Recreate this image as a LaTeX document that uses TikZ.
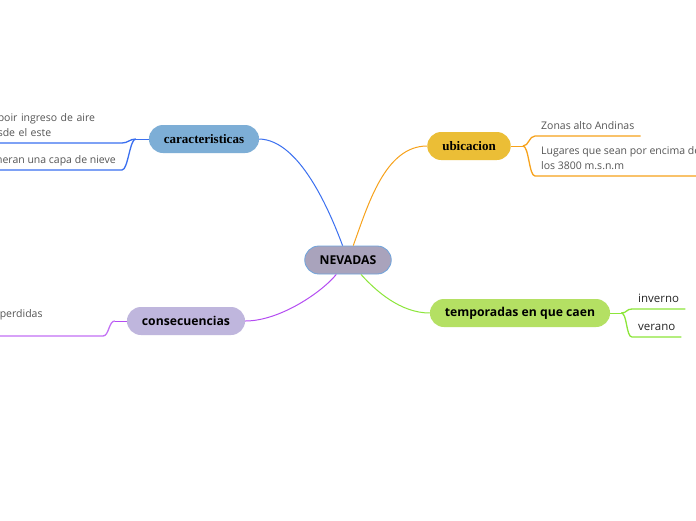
\documentclass[tikz,border=0pt]{standalone}
\usepackage{fontspec}
\setmainfont{Open Sans}
\newfontfamily\slabfont{Liberation Serif}
\usepackage{xcolor}
\definecolor{rootFill}{HTML}{A9A3BC}
\definecolor{rootBorder}{HTML}{6FA4DC}
\definecolor{caractFill}{HTML}{7DAED6}
\definecolor{ubicFill}{HTML}{EBBE36}
\definecolor{tempFill}{HTML}{B4E063}
\definecolor{conseFill}{HTML}{BFB6DD}
\definecolor{lineBlue}{HTML}{3A6FF0}
\definecolor{lineOrange}{HTML}{F7A21B}
\definecolor{lineGreen}{HTML}{8CE63A}
\definecolor{linePurple}{HTML}{B44CF2}
\definecolor{leafText}{HTML}{555555}

\begin{document}
\begin{tikzpicture}[x=1pt, y=-1pt,
  topic/.style={rounded corners=14pt, minimum height=28pt, inner xsep=15pt, inner ysep=0pt, text=black, font=\fontsize{12.2}{14}\selectfont\bfseries},
  slab/.style={font=\fontsize{13}{14}\selectfont\slabfont\bfseries},
  leaf/.style={inner xsep=6pt, inner ysep=3pt, text depth=3pt, text=leafText, align=left, font=\fontsize{10.5}{15}\selectfont},
  branch/.style={line width=1pt},
  under/.style={line width=1.3pt}]
  \useasboundingbox[fill=white] (0,0) rectangle (696,520);
  \node[topic, fill=rootFill, draw=rootBorder, line width=0.8pt] (nevadas) at (348,260) {NEVADAS};
  \node[topic, slab, fill=caractFill] (caract) at (204,139) {caracteristicas};
  \node[topic, slab, fill=ubicFill] (ubic) at (469,146) {ubicacion};
  \node[topic, fill=tempFill] (temp) at (520,313) {temporadas en que caen};
  \node[topic, fill=conseFill] (conse) at (186,321) {consecuencias};
  \node[leaf, anchor=south east, text width=118pt, text depth=18pt] (aire) at (122,143) {poir ingreso de aire\\sde el este};
  \node[leaf, anchor=south east] (capa) at (122,170) {neran una capa de nieve};
  \node[leaf, anchor=south east, text width=97pt, text depth=15pt] (perdidas) at (103,336) {perdidas};
  \node[leaf, anchor=south west] (andinas) at (535,136) {Zonas alto Andinas};
  \node[leaf, anchor=south west] (lugares) at (535,176) {Lugares que sean por encima de\\los 3800 m.s.n.m};
  \node[leaf, anchor=south west, text=black!85, font=\fontsize{11.5}{14}\selectfont] (inverno) at (632,309) {inverno};
  \node[leaf, anchor=south west, text=black!85, font=\fontsize{11.5}{14}\selectfont] (verano) at (632,337) {verano};
  \draw[lineBlue, branch] (caract.east) .. controls (300,140) and (330,212) .. (nevadas);
  \draw[lineOrange, branch] (nevadas) .. controls (368,205) and (385,146) .. (ubic.west);
  \draw[lineGreen, branch] (nevadas) .. controls (375,290) and (400,313) .. (temp.west);
  \draw[linePurple, branch] (nevadas) .. controls (322,292) and (280,321) .. (conse.east);
  \draw[lineBlue, branch] (caract.west) -- ++(-13,0) coordinate (caractFork);
  \draw[lineBlue, under] (caractFork) .. controls +(-6,0) and +(6,0) .. (aire.south east) -- (aire.south west);
  \draw[lineBlue, under] (caractFork) .. controls +(-6,0) and +(6,0) .. (capa.south east) -- ++(-130,0);
  \draw[linePurple, branch] (conse.west) -- ++(-12,0) coordinate (conseFork);
  \draw[linePurple!80, under] (conseFork) .. controls +(-6,0) and +(6,0) .. (perdidas.south east) -- (perdidas.south west);
  \draw[lineOrange, branch] (ubic.east) -- ++(12,0) coordinate (ubicFork);
  \draw[lineOrange, under] (ubicFork) .. controls +(6,0) and +(-6,0) .. (andinas.south west) -- (andinas.south east);
  \draw[lineOrange, under] (ubicFork) .. controls +(6,0) and +(-6,0) .. (lugares.south west) -- (lugares.south east);
  \draw[lineGreen, branch] (temp.east) -- ++(11,0) coordinate (tempFork);
  \draw[lineGreen, under] (tempFork) .. controls +(6,0) and +(-6,0) .. (inverno.south west) -- (inverno.south east);
  \draw[lineGreen, under] (tempFork) .. controls +(6,0) and +(-6,0) .. (verano.south west) -- (verano.south east);
\end{tikzpicture}
\end{document}
